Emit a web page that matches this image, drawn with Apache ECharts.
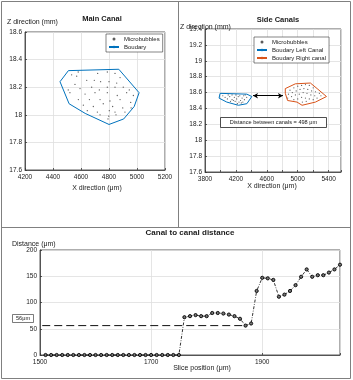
<!DOCTYPE html>
<html><head><meta charset="utf-8">
<script src="https://cdn.jsdelivr.net/npm/echarts@6.0.0/dist/echarts.min.js"></script>
<style>html,body{margin:0;padding:0;background:#fff}#c{width:353px;height:380px}</style>
</head><body><div id="c"></div>
<script>
// ---------- DATA ----------
// Main canal (x in μm, z in mm)
const mainBubbles = [[4580,18.31],[4533,18.29],[4719,18.30],[4788,18.31],[4843,18.30],[4641,18.25],[4695,18.25],[4740,18.24],[4800,18.24],[4855,18.23],[4557,18.22],[4509,18.18],[4593,18.19],[4676,18.20],[4731,18.18],[4788,18.20],[4843,18.20],[4902,18.20],[4945,18.18],[4521,18.16],[4629,18.15],[4700,18.16],[4788,18.16],[4859,18.14],[4926,18.16],[4974,18.14],[4581,18.11],[4660,18.11],[4736,18.11],[4807,18.10],[4879,18.11],[4955,18.09],[4617,18.07],[4688,18.06],[4759,18.08],[4826,18.06],[4898,18.05],[4958,18.05],[4645,18.03],[4717,18.02],[4802,18.03],[4843,18.02],[4914,18.02],[4736,18.00],[4798,17.99],[4850,18.00],[4793,17.97],[4569,18.28],[4879,18.27]];
const mainBoundary = [[4510,18.32],[4870,18.33],[5015,18.16],[4980,18.06],[4905,17.97],[4800,17.93],[4630,18.01],[4515,18.08],[4450,18.24],[4510,18.32]];
// Side canals
const leftBubbles = [[4100,18.57],[4150,18.57],[4200,18.57],[4250,18.56],[4300,18.56],[4060,18.54],[4120,18.55],[4180,18.54],[4230,18.55],[4280,18.53],[4340,18.54],[4090,18.52],[4150,18.51],[4210,18.52],[4260,18.50],[4310,18.51],[4130,18.49],[4190,18.49],[4240,18.48],[4290,18.48],[4220,18.46],[4270,18.47],[4170,18.50],[4320,18.57],[4030,18.56]];
const rightBubbles = [[4900,18.63],[4950,18.66],[5000,18.68],[5050,18.69],[5100,18.70],[5150,18.69],[5200,18.66],[4880,18.58],[4930,18.60],[4980,18.62],[5030,18.64],[5080,18.65],[5130,18.64],[5180,18.62],[5230,18.61],[5280,18.59],[4920,18.55],[4970,18.57],[5020,18.58],[5070,18.60],[5120,18.59],[5170,18.57],[5220,18.56],[5300,18.56],[5000,18.52],[5050,18.54],[5100,18.53],[5150,18.52],[5200,18.51],[5060,18.48],[5110,18.49],[5250,18.53],[4870,18.53],[4950,18.51]];
const leftBoundary = [[3995,18.59],[4342,18.58],[4406,18.55],[4342,18.46],[4232,18.44],[4082,18.48],[3982,18.53],[3995,18.59]];
const rightBoundary = [[4839,18.65],[4969,18.71],[5164,18.72],[5251,18.65],[5372,18.55],[5229,18.48],[5056,18.44],[4991,18.48],[4869,18.50],[4839,18.59],[4839,18.65]];
const arrowStart = [4421, 18.56];
const arrowEnd = [4809, 18.56];
const distanceText = 'Distance between canals = 498 μm';
// Canal to canal distance
const slicePos = [1510,1520,1530,1540,1550,1560,1570,1580,1590,1600,1610,1620,1630,1640,1650,1660,1670,1680,1690,1700,1710,1720,1730,1740,1750,1760,1770,1780,1790,1800,1810,1820,1830,1840,1850,1860,1870,1880,1890,1900,1910,1920,1930,1940,1950,1960,1970,1980,1990,2000,2010,2020,2030,2040];
const distance = [0,0,0,0,0,0,0,0,0,0,0,0,0,0,0,0,0,0,0,0,0,0,0,0,0,72,74,76,74,74,80,80,79,77,74,69,56,60,122,147,146,143,111,115,122,133,149,163,149,152,152,157,163,172];
const thresholdLine = [[1504,56],[1866,56]];
const thresholdLabel = '56μm';
const mainXTicks = {min:4200, max:5200, step:200};
const mainYTicks = {min:17.6, max:18.6, step:0.2};
const sideXTicks = {min:3800, max:5560, step:200, labelStep:400};
const sideYTicks = {min:17.6, max:19.4, step:0.2};
const distXTicks = {min:1500, max:2040, step:200};
const distYTicks = {min:0, max:200, step:50};

// ---------- CHART ----------
const FONT = '"Liberation Sans", Arial, Helvetica, sans-serif';
const TXT = '#1a1a1a';
const AX = '#333';
const fmt = (v) => String(+(+v).toFixed(3));
function lbl(margin, formatter) {
  return {fontSize:6.5, color:TXT, margin:margin, fontFamily:FONT, formatter:formatter || fmt};
}
function axis(t, extra) {
  return Object.assign({
    type:'value', min:t.min, max:t.max, interval:t.step,
    axisLine:{show:true, lineStyle:{color:AX, width:0.8}},
    axisTick:{show:true, inside:true, length:2, lineStyle:{color:AX, width:0.8}},
    axisLabel:lbl(3.5),
    splitLine:{show:true, lineStyle:{color:'#dedede', width:0.8}}
  }, extra || {});
}
const chart = echarts.init(document.getElementById('c'), null, {renderer:'canvas'});
const zip = (xs, ys) => xs.map((x,i)=>[x, ys[i]]);
function gtext(text, x, y, size, opt) {
  opt = opt || {};
  const style = Object.assign({text:text, fontSize:size, fontFamily:FONT, fill:TXT, align:'left', verticalAlign:'middle'}, opt.style || {});
  return {type:'text', x:x, y:y, z:opt.z || 50, silent:true, style:style};
}
const option = {
  animation:false,
  backgroundColor:'#fff',
  grid:[
    {left:25, top:32, width:140, height:138, show:true, borderColor:AX, borderWidth:0.8, containLabel:false, outerBoundsMode:'none'},
    {left:205, top:29, width:136, height:143, show:true, borderColor:AX, borderWidth:0.8, containLabel:false, outerBoundsMode:'none'},
    {left:40, top:250, width:300, height:105, show:true, borderColor:AX, borderWidth:0.8, containLabel:false, outerBoundsMode:'none'}
  ],
  xAxis:[
    axis(mainXTicks, {gridIndex:0}),
    axis(sideXTicks, {gridIndex:1, axisLabel:lbl(3.5, (v)=> ((v - sideXTicks.min) % sideXTicks.labelStep === 0 ? String(v) : ''))}),
    axis(distXTicks, {gridIndex:2, axisLabel:lbl(3.5, (v)=> ((v - distXTicks.min) % distXTicks.step === 0 ? String(v) : ''))})
  ],
  yAxis:[
    axis(mainYTicks, {gridIndex:0, axisLabel:lbl(3)}),
    axis(sideYTicks, {gridIndex:1, axisLabel:lbl(3)}),
    axis(distYTicks, {gridIndex:2, axisLabel:lbl(3)})
  ],
  legend:[
    {data:['Microbubbles','Boudary'], orient:'vertical', left:106, top:34, padding:[2,3,2,2], itemGap:2,
     itemWidth:10, itemHeight:3, selectedMode:false, backgroundColor:'#fff', borderColor:'#333', borderWidth:0.6,
     textStyle:{fontSize:6, color:TXT, fontFamily:FONT}},
    {data:['Microbubbles','Boudary Left Canal','Boudary Right canal'], orient:'vertical', left:254, top:37, padding:[2,3,2,2], itemGap:2,
     itemWidth:10, itemHeight:3, selectedMode:false, backgroundColor:'#fff', borderColor:'#333', borderWidth:0.6,
     textStyle:{fontSize:6, color:TXT, fontFamily:FONT}}
  ],
  series:[
    {type:'scatter', name:'Microbubbles', xAxisIndex:0, yAxisIndex:0, data:mainBubbles, symbol:'circle', symbolSize:1.3, itemStyle:{color:'#333'}},
    {type:'line', name:'Boudary', xAxisIndex:0, yAxisIndex:0, data:mainBoundary, symbol:'none', showSymbol:false, lineStyle:{color:'#0072BD', width:1}, itemStyle:{color:'#0072BD'}},
    {type:'scatter', name:'Microbubbles', xAxisIndex:1, yAxisIndex:1, data:leftBubbles, symbol:'circle', symbolSize:1.2, itemStyle:{color:'#333'}},
    {type:'scatter', name:'Microbubbles', xAxisIndex:1, yAxisIndex:1, data:rightBubbles, symbol:'circle', symbolSize:1.2, itemStyle:{color:'#333'}},
    {type:'line', name:'Boudary Left Canal', xAxisIndex:1, yAxisIndex:1, data:leftBoundary, symbol:'none', showSymbol:false, lineStyle:{color:'#0072BD', width:1}, itemStyle:{color:'#0072BD'},
     markLine:{silent:true, animation:false, symbol:['arrow','arrow'], symbolSize:[4,5], label:{show:false},
       lineStyle:{color:'#000', width:1, type:'solid'}, emphasis:{disabled:true},
       data:[[{coord:arrowStart},{coord:arrowEnd}]]}},
    {type:'line', name:'Boudary Right canal', xAxisIndex:1, yAxisIndex:1, data:rightBoundary, symbol:'none', showSymbol:false, lineStyle:{color:'#D95319', width:1}, itemStyle:{color:'#D95319'}},
    {type:'line', name:'Threshold', xAxisIndex:2, yAxisIndex:2, data:thresholdLine, symbol:'none', showSymbol:false, lineStyle:{color:'#111', width:1, type:[8,4]}},
    {type:'line', name:'Distance', xAxisIndex:2, yAxisIndex:2, data:zip(slicePos, distance), symbol:'circle', symbolSize:3.2,
     lineStyle:{color:'#000', width:0.8, type:[3,1.5,0.8,1.5]}, itemStyle:{color:'#777', borderColor:'#000', borderWidth:0.9}}
  ],
  graphic:[
    {type:'rect', silent:true, z:1, shape:{x:1.5, y:1.5, width:349, height:377}, style:{fill:null, stroke:'#808080', lineWidth:1}},
    {type:'line', silent:true, z:1, shape:{x1:1.5, y1:227.5, x2:350.5, y2:227.5}, style:{stroke:'#808080', lineWidth:1}},
    {type:'line', silent:true, z:1, shape:{x1:178.5, y1:1.5, x2:178.5, y2:227.5}, style:{stroke:'#808080', lineWidth:1}},
    gtext('Main Canal', 102, 19, 7.5, {style:{align:'center', fontWeight:'bold'}}),
    gtext('Side Canals', 278, 19.5, 7.5, {style:{align:'center', fontWeight:'bold'}}),
    gtext('Canal to canal distance', 190, 233, 8, {style:{align:'center', fontWeight:'bold'}}),
    gtext('Z direction (mm)', 7, 22, 7),
    gtext('X direction (μm)', 97, 188, 7, {style:{align:'center'}}),
    gtext('Z direction (mm)', 180, 27, 7),
    gtext('X direction (μm)', 272, 186, 7, {style:{align:'center'}}),
    gtext('Distance (μm)', 12, 244, 7),
    gtext('Slice position (μm)', 202, 368, 7, {style:{align:'center'}}),
    {type:'rect', silent:true, z:60, shape:{x:220.5, y:117.5, width:106, height:10}, style:{fill:'#fff', stroke:'#222', lineWidth:0.8}},
    gtext(distanceText, 273.5, 122.7, 5.6, {z:61, style:{align:'center'}}),
    {type:'rect', silent:true, z:60, shape:{x:12.5, y:314.5, width:21, height:8}, style:{fill:'#fff', stroke:'#444', lineWidth:0.7}},
    gtext(thresholdLabel, 23, 318.7, 5.6, {z:61, style:{align:'center'}})
  ]
};
chart.setOption(option);
</script></body></html>
